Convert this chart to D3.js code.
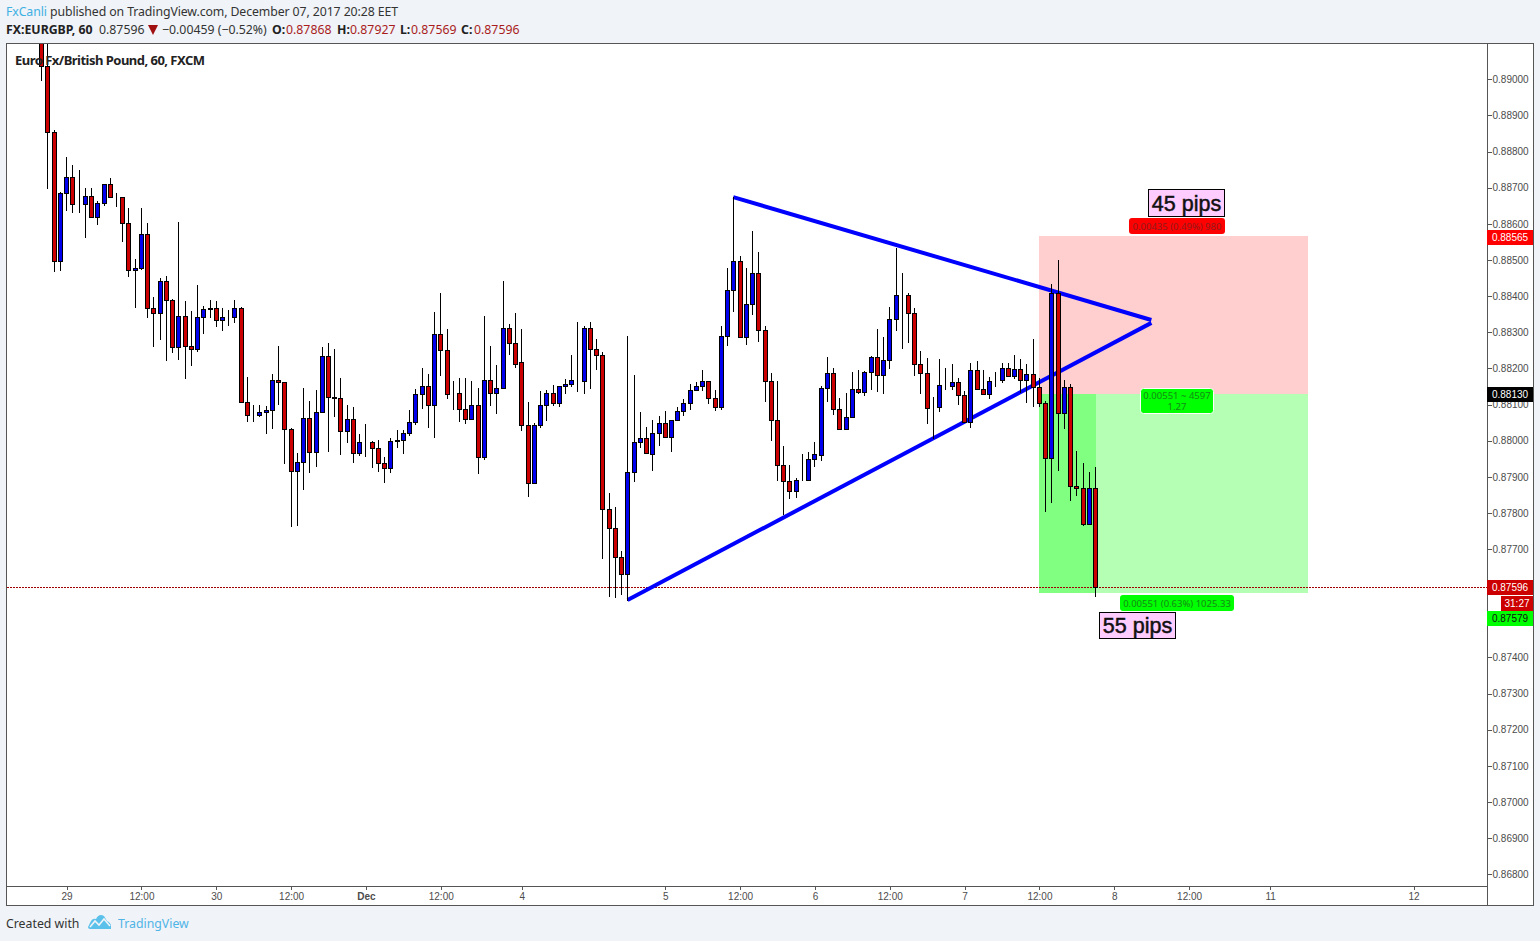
<!DOCTYPE html>
<html>
<head>
<meta charset="utf-8">
<title>EURGBP 60</title>
<script src="https://d3js.org/d3.v7.min.js"></script>
<style>
html,body{margin:0;padding:0;background:#f0f3f8;overflow:hidden}
svg{display:block}
text{font-family:"Liberation Sans",Arial,sans-serif}
.hdr{font-family:"Noto Sans",sans-serif;font-size:12.3px;fill:#333}
.axis text{font-size:10px;fill:#4c4c4c;font-family:"Liberation Sans",Arial,sans-serif}
.axis path,.axis line{stroke:#555;shape-rendering:crispEdges}
</style>
</head>
<body>
<div id="chart"></div>
<script>
// Bar prices in points (1 point = 0.00001). First bar is number -4.
const firstBar = -4;
const barOpen = [
89300,89038,88855,88496,88684,88731,88656,88656,88678,88620,
88659,88709,88675,88673,88603,88473,88479,88573,88368,88354,
88443,88390,88258,88346,88263,88255,88341,88365,88368,88335,
88343,88341,88368,88108,88072,88072,88080,88086,88169,88163,
88031,87915,87940,88064,87970,88078,88233,88122,88117,88026,
88059,87965,87995,87995,87979,87937,87923,87998,88003,88020,
88053,88128,88150,88098,88294,88252,88128,88131,88089,88059,
88098,87956,88169,88131,88145,88313,88269,88219,88042,87884,
88042,88098,88133,88103,88150,88158,88166,88164,88311,88255,
88236,87810,87757,87677,87630,87912,87995,88006,87964,88020,
88050,88009,88056,88081,88105,88139,88152,88166,88119,88092,
88291,88418,88496,88288,88379,88465,88307,88166,88058,87934,
87887,87862,87892,87892,87948,87961,88147,88188,88089,88033,
88066,88144,88136,88191,88232,88183,88224,88338,88404,88404,
88354,88213,88188,88093,88094,88153,88152,88163,88127,88053,
88196,88144,88130,88167,88169,88202,88180,88199,88169,88185,
88149,88105,87953,88409,88077,88149,87875,87870,87770,87868];
const barHigh = [
89350,89300,88859,88687,88784,88762,88748,88698,88698,88662,
88711,88726,88684,88673,88643,88502,88643,88602,88397,88451,
88455,88393,88604,88386,88358,88430,88374,88388,88386,88366,
88361,88389,88371,88175,88098,88098,88095,88184,88262,88163,
88034,87966,88145,88109,88140,88258,88269,88253,88173,88100,
88093,88018,88046,87998,88001,87955,88006,88029,88029,88085,
88142,88201,88184,88356,88410,88308,88165,88173,88173,88165,
88145,88345,88262,88209,88442,88322,88353,88309,88107,88048,
88137,88139,88154,88150,88170,88237,88328,88317,88328,88280,
88244,87854,87816,87694,88289,88181,88079,88037,88057,88069,
88081,88056,88092,88116,88158,88161,88196,88166,88141,88317,
88479,88675,88510,88479,88579,88521,88318,88188,88164,87984,
87934,87898,87962,87970,87995,88151,88232,88200,88119,88133,
88191,88196,88194,88235,88310,88288,88371,88532,88465,88410,
88368,88249,88230,88122,88227,88202,88213,88174,88138,88216,
88221,88196,88177,88191,88216,88216,88238,88227,88213,88280,
88174,88111,88434,88499,88167,88156,87972,87939,87914,87927];
const barLow = [
88997,88699,88470,88472,88638,88633,88633,88564,88620,88600,
88653,88675,88650,88553,88456,88370,88475,88342,88262,88282,
88223,88246,88226,88174,88209,88248,88298,88342,88317,88306,
88320,88328,88108,88055,88055,88069,88021,88036,88101,87939,
87765,87767,87867,87914,87931,88078,87972,88069,87964,87997,
87941,87959,87958,87928,87917,87886,87914,87983,87966,88016,
88047,88091,88038,88011,88182,88118,88088,88055,88050,88059,
87911,87950,88098,88077,88145,88240,88205,88030,87848,87884,
88038,88057,88099,88097,88133,88152,88138,88133,88146,88199,
87676,87571,87568,87576,87560,87889,87983,87965,87920,87987,
88009,87972,88056,88072,88088,88139,88140,88104,88085,88088,
88265,88359,88288,88268,88351,88276,88110,88002,87891,87797,
87842,87844,87892,87892,87931,87946,88110,88074,88033,88033,
88066,88133,88127,88143,88137,88132,88202,88307,88257,88273,
88183,88133,88050,88007,88083,88144,88144,88102,88053,88038,
88144,88130,88118,88152,88163,88180,88174,88136,88108,88097,
88097,87805,87830,87918,88034,87835,87849,87766,87770,87569];
const barClose = [
89038,88855,88496,88684,88731,88656,88656,88678,88620,88659,
88709,88675,88674,88603,88473,88479,88573,88368,88354,88443,
88390,88258,88346,88263,88255,88341,88365,88367,88335,88343,
88342,88368,88108,88072,88072,88080,88086,88169,88163,88031,
87915,87940,88064,87970,88078,88233,88122,88117,88026,88059,
87965,87995,87995,87979,87937,87923,87998,88003,88020,88053,
88128,88150,88098,88294,88252,88128,88129,88089,88059,88098,
87956,88169,88131,88145,88313,88269,88211,88042,87884,88042,
88098,88133,88103,88150,88158,88167,88166,88311,88255,88236,
87810,87757,87677,87630,87912,87995,88006,87965,88020,88050,
88009,88056,88081,88105,88139,88152,88166,88119,88092,88291,
88418,88496,88288,88379,88465,88307,88166,88058,87934,87887,
87862,87892,87892,87948,87962,88147,88188,88089,88033,88066,
88144,88136,88191,88232,88183,88224,88338,88404,88404,88354,
88213,88188,88091,88093,88155,88153,88163,88127,88053,88196,
88144,88130,88166,88167,88202,88180,88199,88169,88185,88149,
88105,87953,88409,88077,88149,87875,87870,87770,87868,87596];

const timeTickBars   = [0,12,24,36,48,60,73,96,108,120,132,144,156,168,180,193,216];
const timeTickLabels = ["29","12:00","30","12:00","Dec","12:00","4","5","12:00","6","12:00","7","12:00","8","12:00","11","12"];
const priceTicks = [86800,86900,87000,87100,87200,87300,87400,87500,87600,87700,87800,87900,88000,88100,88200,88300,88400,88500,88600,88700,88800,88900,89000];

const upperLineBars = [106.9,173.95];
const upperLinePts  = [88674,88334];
const lowerLineBars = [89.96,173.95];
const lowerLinePts  = [87559,88326];

const positionBars = [156,165,199];         // entry bar, last bar, right end
const stopPts = 88565, entryPts = 88130, targetPts = 87579, lastPts = 87596;
const stopLabel = "0.00435 (0.49%) 980";
const midLabel = ["0.00551 ~ 4597","1.27"];
const targetLabel = "0.00551 (0.63%) 1025.33";
const stopNote = "45 pips", targetNote = "55 pips";

const W=1540,H=941;
const pane={l:7,r:1487,t:44,b:886};
const xs=d3.scaleLinear().domain([0,216]).range([66.6,1413.6]);
const ys=d3.scaleLinear().domain([86800,89000]).range([874.3,79.3]);
const px=v=>Math.floor(xs(v));
const py=v=>Math.round(ys(v));

const svg=d3.select("#chart").append("svg").attr("width",W).attr("height",H);
svg.append("rect").attr("width",W).attr("height",H).attr("fill","#f0f3f8");
svg.append("rect").attr("x",6.5).attr("y",43.5).attr("width",1527).attr("height",862)
   .attr("fill","#fff").attr("stroke","#555").attr("shape-rendering","crispEdges");
svg.append("defs").append("clipPath").attr("id","pane").append("rect")
   .attr("x",pane.l).attr("y",pane.t).attr("width",pane.r-pane.l).attr("height",pane.b-pane.t);
const g=svg.append("g").attr("clip-path","url(#pane)");

// position tool
const pos=g.append("g").attr("shape-rendering","crispEdges");
const pL=xs(positionBars[0]), pM=xs(positionBars[1])+.5, pR=xs(positionBars[2]);
pos.append("rect").attr("x",pL).attr("y",ys(stopPts)).attr("width",pR-pL).attr("height",ys(entryPts)-ys(stopPts)).attr("fill","#ffcece");
pos.append("rect").attr("x",pL).attr("y",ys(entryPts)).attr("width",pR-pL).attr("height",ys(targetPts)-ys(entryPts)).attr("fill","#b4ffb4");
pos.append("rect").attr("x",pL).attr("y",ys(entryPts)).attr("width",pM-pL).attr("height",ys(targetPts)-ys(entryPts)).attr("fill","#80ff80");

// last price line
g.append("line").attr("x1",pane.l).attr("x2",pane.r).attr("y1",py(lastPts)+.5).attr("y2",py(lastPts)+.5)
 .attr("stroke","#a00000").attr("stroke-dasharray","2 1").attr("shape-rendering","crispEdges");

// trend lines
[[upperLineBars,upperLinePts],[lowerLineBars,lowerLinePts]].forEach(([b,p])=>{
  g.append("line").attr("x1",xs(b[0])).attr("x2",xs(b[1])).attr("y1",ys(p[0])).attr("y2",ys(p[1]))
   .attr("stroke","#0000ff").attr("stroke-width",4).attr("stroke-linecap","butt");
});

// candles
const bars=barOpen.map((o,k)=>({i:k+firstBar,o,h:barHigh[k],l:barLow[k],c:barClose[k]}));
const cg=g.append("g").attr("shape-rendering","crispEdges");
cg.selectAll("line.w").data(bars).join("line").attr("class","w")
  .attr("x1",d=>px(d.i)+.5).attr("x2",d=>px(d.i)+.5)
  .attr("y1",d=>py(d.h)).attr("y2",d=>py(d.l)+1).attr("stroke","#000");
cg.selectAll("rect.b").data(bars).join("rect").attr("class","b")
  .attr("x",d=>px(d.i)-1.5).attr("width",4)
  .attr("y",d=>py(Math.max(d.o,d.c))+.5)
  .attr("height",d=>Math.max(0,py(Math.min(d.o,d.c))-py(Math.max(d.o,d.c))))
  .attr("fill",d=>d.c<d.o?"#cc0000":"#0000ee").attr("stroke","#000");

// title (on top of candles)
svg.append("text").attr("x",15).attr("y",65).attr("font-size","13px").attr("font-weight","700")
  .style("font-family",'"Noto Sans",sans-serif').attr("fill","#222").attr("textLength",190)
  .text("Euro Fx/British Pound, 60, FXCM");

// pill labels
function pill(x,y,w,h,fill,lines,stroke,tc){
  svg.append("rect").attr("x",x).attr("y",y).attr("width",w).attr("height",h).attr("rx",3)
     .attr("fill",fill).attr("stroke",stroke||"none").attr("stroke-width",1);
  lines.forEach((t,k)=>svg.append("text").attr("x",x+w/2).attr("y",y+h/2+3.5+(k-(lines.length-1)/2)*10.5)
     .attr("text-anchor","middle").attr("font-size","9.5px").style("font-family",'"Noto Sans",sans-serif')
     .attr("fill",tc).text(t));
}
pill(1129,218,96,16,"#ff0000",[stopLabel],null,"#8f1c1c");
pill(1140.5,388.5,73,25,"#00ff00",midLabel,"#fff","#158a15");
pill(1120,595,114,16,"#00ff00",[targetLabel],null,"#158a15");

function note(x,y,w,h,t){
  svg.append("rect").attr("x",x+.5).attr("y",y+.5).attr("width",w).attr("height",h)
    .attr("fill","#ffccff").attr("stroke","#000").attr("shape-rendering","crispEdges");
  svg.append("text").attr("x",x+w/2+.5).attr("y",y+h/2+8).attr("text-anchor","middle")
    .attr("font-size","21.5px").attr("fill","#111").attr("stroke","#111").attr("stroke-width",.5).text(t);
}
note(1148,189,76,27,stopNote);
note(1099,612,76,26,targetNote);

// axes
const yAxis=d3.axisRight(ys).tickValues(priceTicks).tickSize(4).tickPadding(1)
  .tickFormat(v=>(v/1e5).toFixed(5));
svg.append("g").attr("class","axis").attr("transform","translate(1487.5,0)").call(yAxis)
  .call(s=>s.select(".domain").attr("d","M0,43.5V905.5"));
const xAxis=d3.axisBottom(xs).tickValues(timeTickBars).tickSize(3).tickPadding(1)
  .tickFormat((v,k)=>timeTickLabels[k]);
const xg=svg.append("g").attr("class","axis").attr("transform","translate(0,886.5)").call(xAxis);
xg.select(".domain").attr("d","M6.5,0H1487.5");
xg.selectAll("text").attr("font-weight",(v,k)=>timeTickLabels[k]==="Dec"?"700":null).attr("dy","0.95em");

// price tags
function tag(x,w,cy,h,fill,tc,t){
  svg.append("rect").attr("x",x).attr("y",cy-h/2).attr("width",w).attr("height",h).attr("fill",fill);
  svg.append("text").attr("x",x+w/2).attr("y",cy+3.5).attr("text-anchor","middle")
    .attr("font-size","10px").attr("fill",tc).text(t);
}
const fmt=v=>(v/1e5).toFixed(5);
tag(1487,46,237.5,15,"#ff0000","#fff",fmt(stopPts));
tag(1487,46,394.5,15,"#000000","#fff",fmt(entryPts));
tag(1487,46,587.5,15,"#cc0000","#fff",fmt(lastPts));
tag(1501,32,603.5,15,"#cc0000","#fff","31:27");
tag(1487,46,618.5,15,"#00ff00","#111",fmt(targetPts));

// header
svg.append("text").attr("class","hdr").attr("x",6).attr("y",16).attr("textLength",392)
  .call(t=>{t.append("tspan").style("fill","#3fb1e3").text("FxCanli");
            t.append("tspan").text(" published on TradingView.com, December 07, 2017 20:28 EET");});
const hd=[[6,"FX:EURGBP, 60",1,"#222"],[99,"0.87596",0,"#333"],[162,"\u22120.00459 (\u22120.52%)",0,"#333"],
  [272,"O:",1,"#222"],[286,"0.87868",0,"#a91c1c"],[337,"H:",1,"#222"],[350,"0.87927",0,"#a91c1c"],
  [400,"L:",1,"#222"],[411,"0.87569",0,"#a91c1c"],[461,"C:",1,"#222"],[474,"0.87596",0,"#a91c1c"]];
hd.forEach(d=>svg.append("text").attr("class","hdr").attr("x",d[0]).attr("y",34)
  .style("fill",d[3]).attr("font-weight",d[2]?"700":null).text(d[1]));
svg.append("path").attr("d","M148,25H158L153,35Z").attr("fill","#a01010");

// footer
svg.append("text").attr("class","hdr").attr("x",6).attr("y",928).text("Created with");
svg.append("path").attr("d","M88,927 L91,921 Q93,918 96,919 Q99,913 104,916 L107,921 Q111,923 111,926 L111,929 H90 Q88,929 88,927Z").attr("fill","#5cc1ea");
svg.append("path").attr("d","M90,927 L95,921 L99,925 L104,919 L110,926").attr("fill","none").attr("stroke","#f0f3f8").attr("stroke-width",1.6);
svg.append("text").attr("class","hdr").attr("x",118).attr("y",928).style("fill","#4fb4e6").text("TradingView");
</script>
</body>
</html>
